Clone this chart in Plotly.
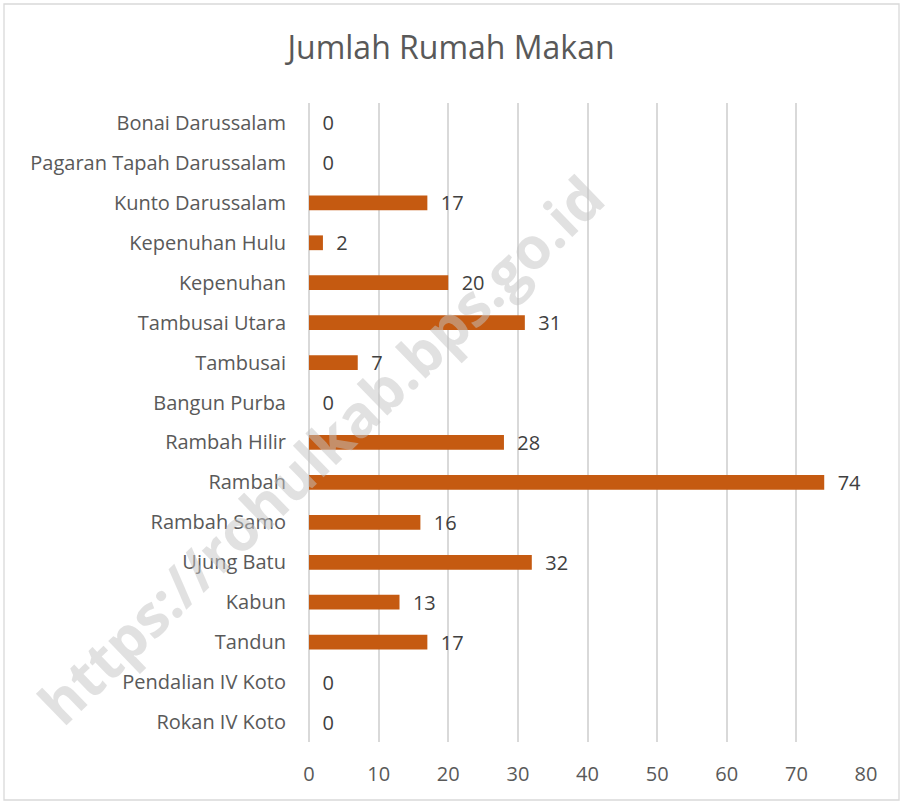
import plotly.graph_objects as go

categories = ["Rokan IV Koto", "Pendalian IV Koto", "Tandun", "Kabun", "Ujung Batu",
              "Rambah Samo", "Rambah", "Rambah Hilir", "Bangun Purba", "Tambusai",
              "Tambusai Utara", "Kepenuhan", "Kepenuhan Hulu", "Kunto Darussalam",
              "Pagaran Tapah Darussalam", "Bonai Darussalam"]
values = [0, 0, 17, 13, 32, 16, 74, 28, 0, 7, 31, 20, 2, 17, 0, 0]
x_ticks = [0, 10, 20, 30, 40, 50, 60, 70, 80]

W, H = 902, 803
L, R, T, B = 309, 36, 103, 61
FONT = "Open Sans"

fig = go.Figure()
fig.add_trace(go.Bar(
    y=categories, x=values, orientation="h",
    marker=dict(color="#C55A11", line=dict(width=0)),
    width=0.37,
    text=values,
    texttemplate="\u00a0\u00a0%{x}",
    textposition="outside",
    constraintext="none",
    textfont=dict(family=FONT, size=20, color="#404040"),
    cliponaxis=False,
))

fig.update_layout(
    width=W, height=H,
    margin=dict(l=L, r=R, t=T, b=B, autoexpand=False),
    paper_bgcolor="white", plot_bgcolor="white",
    showlegend=False,
    title=dict(text="Jumlah Rumah Makan", x=0.5, xanchor="center",
               y=1 - 48 / H, yanchor="middle",
               font=dict(family=FONT, size=32, color="#595959")),
    xaxis=dict(range=[0, 80], tickvals=x_ticks, showgrid=True,
               gridcolor="#D9D9D9", gridwidth=1.5,
               zeroline=True, zerolinecolor="#D9D9D9", zerolinewidth=1.5,
               showline=False, ticks="outside", ticklen=14, tickcolor="rgba(0,0,0,0)",
               tickfont=dict(family=FONT, size=20, color="#595959"),
               fixedrange=True),
    yaxis=dict(categoryorder="array", categoryarray=categories,
               showgrid=False, zeroline=False, showline=False,
               ticks="outside", ticklen=18, tickcolor="rgba(0,0,0,0)",
               tickfont=dict(family=FONT, size=20, color="#595959"),
               range=[-0.5, len(categories) - 0.5]),
)

pw, ph = W - L - R, H - T - B
def px2x(p):
    return (p - L) / pw
def py2y(p):
    return 1 - (p - T) / ph

fig.add_shape(type="rect", xref="paper", yref="paper",
              x0=px2x(4), x1=px2x(899), y0=py2y(4), y1=py2y(800),
              line=dict(color="#D9D9D9", width=1.3), fillcolor="rgba(0,0,0,0)",
              layer="below")

fig.add_annotation(text="<b>https://rohulkab.bps.go.id</b>", xref="paper", yref="paper",
                   x=px2x(320), y=py2y(450), xanchor="center", yanchor="middle",
                   textangle=-44, showarrow=False,
                   font=dict(family=FONT, size=58, color="rgba(195,195,195,0.5)"))

fig.write_html("out.html", config={"displayModeBar": False},
               post_script="document.body.style.margin='0';document.body.style.padding='0';")
